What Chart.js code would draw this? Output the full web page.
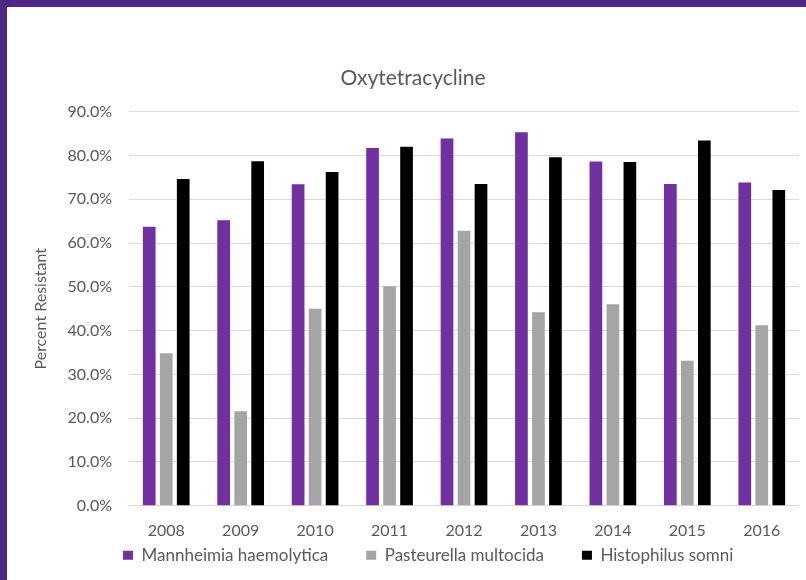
<!DOCTYPE html>
<html>
<head>
<meta charset="utf-8">
<title>Oxytetracycline</title>
<script src="https://cdn.jsdelivr.net/npm/chart.js@4.4.1/dist/chart.umd.min.js"></script>
<style>
  html, body { margin: 0; padding: 0; }
  body {
    width: 806px;
    height: 580px;
    overflow: hidden;
    position: relative;
    background: #4e2784;
  }
  .slide {
    position: absolute;
    left: 7px;
    top: 7px;
    width: 799px;
    height: 573px;
    background: #ffffff;
  }
</style>
</head>
<body>
<div class="slide"><canvas id="chart" width="799" height="573"></canvas></div>
<script>
"use strict";

// resistance by year, in percent
const years = ["2008", "2009", "2010", "2011", "2012", "2013", "2014", "2015", "2016"];
const mannheimia = [63.7, 65.2, 73.4, 81.7, 83.9, 85.3, 78.6, 73.5, 73.8];
const pasteurella = [34.8, 21.6, 45.0, 50.1, 62.8, 44.2, 46.0, 33.1, 41.2];
const histophilus = [74.6, 78.7, 76.2, 82.0, 73.5, 79.6, 78.5, 83.4, 72.1];

const seriesNames = ["Mannheimia haemolytica", "Pasteurella multocida", "Histophilus somni"];
const seriesColors = ["#7030a0", "#a5a5a5", "#000000"];

const textColor = "#595959";
const fontFamily = "Lato, 'Open Sans', sans-serif";

// the x box is kept short so the legend row sits right under the year labels;
// let those labels draw past it and start the legend near the plot's left edge
const legendUnderAxis = {
  id: "legendUnderAxis",
  afterLayout(chart) {
    chart.scales.x.bottom = chart.height;
    const legend = chart.legend;
    const shift = chart.chartArea.left - 6 - legend.options.labels.padding - legend.left;
    legend.left += shift;
    legend.right += shift;
  },
};

const ctx = document.getElementById("chart").getContext("2d");

new Chart(ctx, {
  type: "bar",
  data: {
    labels: years,
    datasets: [mannheimia, pasteurella, histophilus].map((values, i) => ({
      label: seriesNames[i],
      data: values,
      backgroundColor: seriesColors[i],
      borderWidth: 0,
      barPercentage: 0.747,
      categoryPercentage: 0.685,
    })),
  },
  options: {
    responsive: false,
    animation: false,
    layout: {
      padding: { left: 20, right: 7, top: 0.5, bottom: 6.3 },
    },
    plugins: {
      title: {
        display: true,
        text: "Oxytetracycline",
        color: textColor,
        font: { family: fontFamily, size: 21, weight: "normal" },
        padding: { top: 58, bottom: 21 },
      },
      legend: {
        position: "bottom",
        align: "start",
        labels: {
          boxWidth: 10,
          boxHeight: 9,
          padding: 38,
          color: textColor,
          font: { family: fontFamily, size: 17 },
        },
      },
      tooltip: { enabled: false },
    },
    scales: {
      x: {
        grid: { display: false },
        border: { display: false },
        ticks: {
          color: textColor,
          padding: 8,
          font: { family: fontFamily, size: 16 },
        },
        afterFit: (scale) => {
          scale.height = 3;
        },
      },
      y: {
        min: 0,
        max: 90,
        border: { display: false },
        grid: { color: "#d9d9d9", lineWidth: 1, drawTicks: false },
        ticks: {
          stepSize: 10,
          padding: 17,
          color: textColor,
          font: { family: fontFamily, size: 16 },
          callback: (value) => value.toFixed(1) + "%",
        },
        title: {
          display: true,
          text: "Percent Resistant",
          color: textColor,
          font: { family: fontFamily, size: 16 },
        },
        afterFit: (scale) => {
          scale.width = 102;
        },
      },
    },
  },
  plugins: [legendUnderAxis],
});
</script>
</body>
</html>
